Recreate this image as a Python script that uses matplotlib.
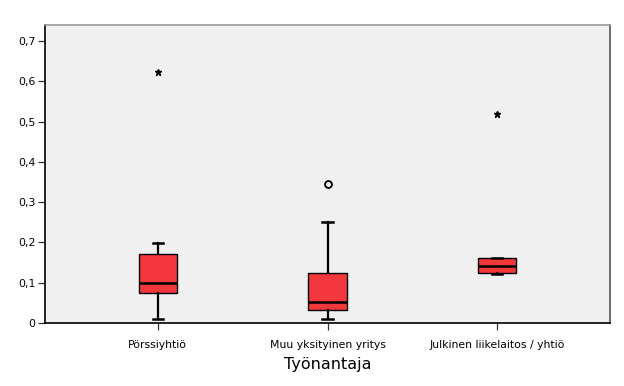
import matplotlib
matplotlib.use("Agg")
import matplotlib.pyplot as plt

categories = ["Pörssiyhtiö", "Muu yksityinen yritys", "Julkinen liikelaitos / yhtiö"]
whis_lo = [0.011, 0.011, 0.121]
q1 = [0.075, 0.032, 0.123]
median = [0.100, 0.053, 0.142]
q3 = [0.171, 0.125, 0.161]
whis_hi = [0.199, 0.251, 0.162]
outliers = [[], [0.345], []]        # circle markers
extremes = [[0.624], [], [0.519]]   # star markers
yticks = [0, 0.1, 0.2, 0.3, 0.4, 0.5, 0.6, 0.7]
ytick_labels = ["0", "0,1", "0,2", "0,3", "0,4", "0,5", "0,6", "0,7"]
xlabel = "Työnantaja"

fig = plt.figure(figsize=(6.24, 3.86), dpi=100)
ax = fig.add_axes([45/624, 1-323/386, (610-45)/624, (323-25)/386])
ax.set_facecolor("#F0F0F0")

stats = []
for i in range(len(categories)):
    stats.append(dict(whislo=whis_lo[i], q1=q1[i], med=median[i], q3=q3[i],
                      whishi=whis_hi[i], fliers=[], label=categories[i]))
pos = list(range(len(categories)))
ax.bxp(stats, positions=pos, widths=0.225, showfliers=False, patch_artist=True,
       boxprops=dict(facecolor="#F2383D", edgecolor="black", linewidth=1.0),
       medianprops=dict(color="black", linewidth=1.8),
       whiskerprops=dict(color="black", linewidth=1.6),
       capprops=dict(color="black", linewidth=1.8),
       capwidths=0.06)

for i in pos:
    if outliers[i]:
        ax.plot([i]*len(outliers[i]), outliers[i], linestyle="none", marker="o",
                markersize=5, markerfacecolor="none", markeredgecolor="black",
                markeredgewidth=1.3)
    if extremes[i]:
        ax.plot([i]*len(extremes[i]), extremes[i], linestyle="none", marker="*",
                markersize=5, color="black")

ax.set_xlim(-0.665, 2.665)
ax.set_ylim(0, 0.7397)
ax.set_yticks(yticks)
ax.set_yticklabels(ytick_labels)
ax.set_xticks(pos)
ax.set_xticklabels(categories)
ax.tick_params(axis="both", labelsize=7.8, length=5, width=0.9, color="#333333")
ax.tick_params(axis="x", pad=7)
ax.tick_params(axis="y", pad=2)
ax.set_xlabel(xlabel, fontsize=11.5, labelpad=5)

ax.spines["left"].set_color("black")
ax.spines["bottom"].set_color("black")
ax.spines["left"].set_linewidth(1.2)
ax.spines["bottom"].set_linewidth(1.2)
ax.spines["top"].set_color("#9A9A9A")
ax.spines["top"].set_linewidth(1.2)
ax.spines["right"].set_color("#555555")
ax.spines["right"].set_linewidth(1.2)

fig.savefig("out.png", dpi=100)
